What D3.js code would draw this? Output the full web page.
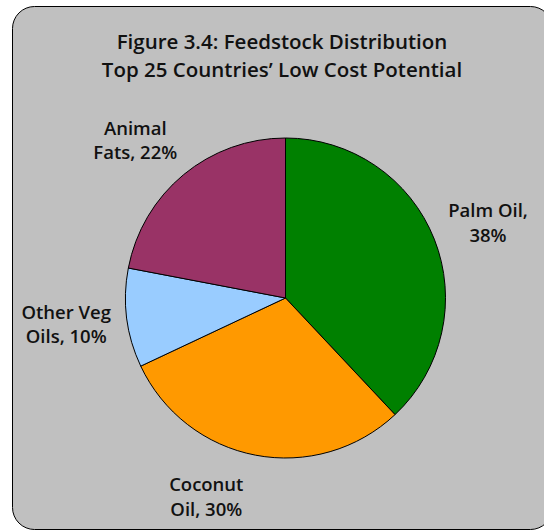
<!DOCTYPE html>
<html>
<head>
<meta charset="utf-8">
<script src="https://cdn.jsdelivr.net/npm/d3@7"></script>
<style>
  html, body { margin: 0; padding: 0; background: #ffffff; }
  svg { display: block; }
  text { font-family: "Open Sans", Lato, "DejaVu Sans", sans-serif; font-weight: 600; fill: #111;
         font-variant-ligatures: none; }
</style>
</head>
<body>
<svg id="chart" width="544" height="531"></svg>
<script>
// Feedstock shares, clockwise from 12 o'clock
const categories = ["Palm Oil", "Coconut Oil", "Other Veg Oils", "Animal Fats"];
const shares = [38, 30, 10, 22];
const labelLines = [
  ["Palm Oil,", "38%"],
  ["Coconut", "Oil, 30%"],
  ["Other Veg", "Oils, 10%"],
  ["Animal", "Fats, 22%"]
];
const colors = ["#008000", "#FF9900", "#99CCFF", "#993366"];
const titleLines = ["Figure 3.4: Feedstock Distribution", "Top 25 Countries\u2019 Low Cost Potential"];

// Layout
const W = 544, H = 531;
const cx = 285.5, cy = 298, radius = 160;
const labelRadius = 220;
// small nudges applied to the radial label anchor of each slice
const labelNudge = [[-2, 6], [-38, -17], [-1, -1], [-10, 12]];

const svg = d3.select("#chart");

// panel
svg.append("rect")
  .attr("x", 12.5).attr("y", 6.5)
  .attr("width", 540).attr("height", 523)
  .attr("rx", 22).attr("ry", 22)
  .attr("fill", "#C0C0C0")
  .attr("stroke", "#000").attr("stroke-width", 1);

// title
const title = svg.append("text")
  .attr("text-anchor", "middle")
  .style("font-size", "20.5px");
titleLines.forEach((t, i) => {
  title.append("tspan").attr("x", 282).attr("y", 49 + i * 28).text(t);
});

const pie = d3.pie().sort(null).value(d => d.value)
  .startAngle(0).endAngle(2 * Math.PI);
const data = categories.map((c, i) => ({ name: c, value: shares[i], color: colors[i], lines: labelLines[i] }));
const arcs = pie(data);

const arc = d3.arc().innerRadius(0).outerRadius(radius);
const labelArc = d3.arc().innerRadius(labelRadius).outerRadius(labelRadius);

const g = svg.append("g").attr("transform", `translate(${cx},${cy})`);

g.selectAll("path.slice")
  .data(arcs)
  .join("path")
  .attr("class", "slice")
  .attr("d", arc)
  .attr("fill", d => d.data.color)
  .attr("stroke", "#000")
  .attr("stroke-width", 1)
  .attr("stroke-linejoin", "round");

g.selectAll("text.label")
  .data(arcs)
  .join("text")
  .attr("class", "label")
  .attr("text-anchor", "middle")
  .style("font-size", "18.5px")
  .each(function (d, i) {
    const [x, y] = labelArc.centroid(d);
    const px = x + labelNudge[i][0];
    const py = y + labelNudge[i][1];
    const t = d3.select(this);
    d.data.lines.forEach((line, k) => {
      t.append("tspan").attr("x", px).attr("y", py - 6 + k * 24.5).text(line);
    });
  });
</script>
</body>
</html>
